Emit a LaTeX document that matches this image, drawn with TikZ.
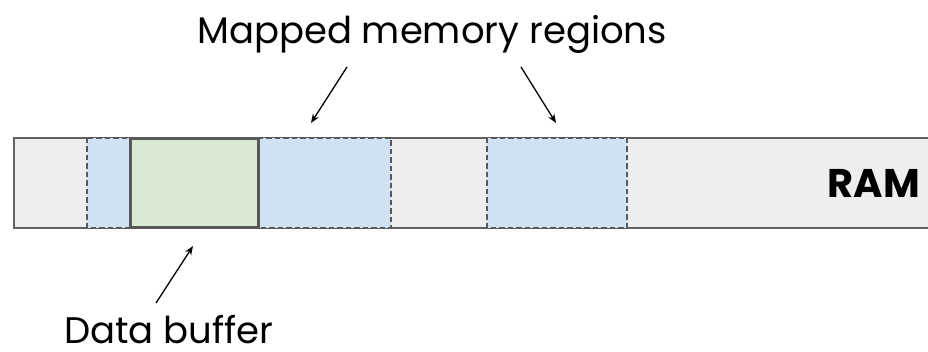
\documentclass[tikz,border=0pt]{standalone}
\usepackage{fontspec}
\setmainfont{Poppins}
\usetikzlibrary{arrows.meta}
\begin{document}
\begin{tikzpicture}[x=1pt,y=-1pt,
  edgegray/.style={draw=black!62, line width=1.2pt},
  mapped/.style={fill={rgb,255:red,207;green,226;blue,243}, draw=black!65, line width=1.8pt, dash pattern=on 5.5pt off 3pt},
  bufferbox/.style={fill={rgb,255:red,217;green,234;blue,211}, draw=black!65, line width=3pt},
  pointer/.style={-{Stealth[length=9pt,width=7pt]}, line width=1.3pt},
  label/.style={font=\fontsize{37}{40}\selectfont, inner sep=0pt, anchor=base west}]
  \useasboundingbox (0,0) rectangle (928,352);
  \begin{scope}
    \clip (0,0) rectangle (928,352);
    % the RAM strip
    \path[fill={rgb,255:red,238;green,238;blue,238}, edgegray] (14,138) rectangle (935,228);
    % mapped regions
    \path[mapped] (87,138) rectangle (391,228);
    \path[mapped] (487,138) rectangle (627,228);
    % data buffer inside the first region
    \path[bufferbox] (130.5,138.5) rectangle (258.5,228);
  \end{scope}
  \coordinate (r1) at (311,123);
  \coordinate (r2) at (556,123);
  \coordinate (buf) at (193,246);
  \node[label] (title) at (197,44) {Mapped memory regions};
  \node[label] (data) at (64,343) {Data buffer};
  \node[font=\fontsize{40}{44}\selectfont\bfseries, inner sep=0pt, anchor=base east] (ram) at (920,198) {RAM};
  \coordinate (t1) at (347,67);
  \coordinate (t2) at (521,67);
  \coordinate (d1) at (156,303);
  \draw[pointer] (t1) -- (r1);
  \draw[pointer] (t2) -- (r2);
  \draw[pointer] (d1) -- (buf);
\end{tikzpicture}
\end{document}
